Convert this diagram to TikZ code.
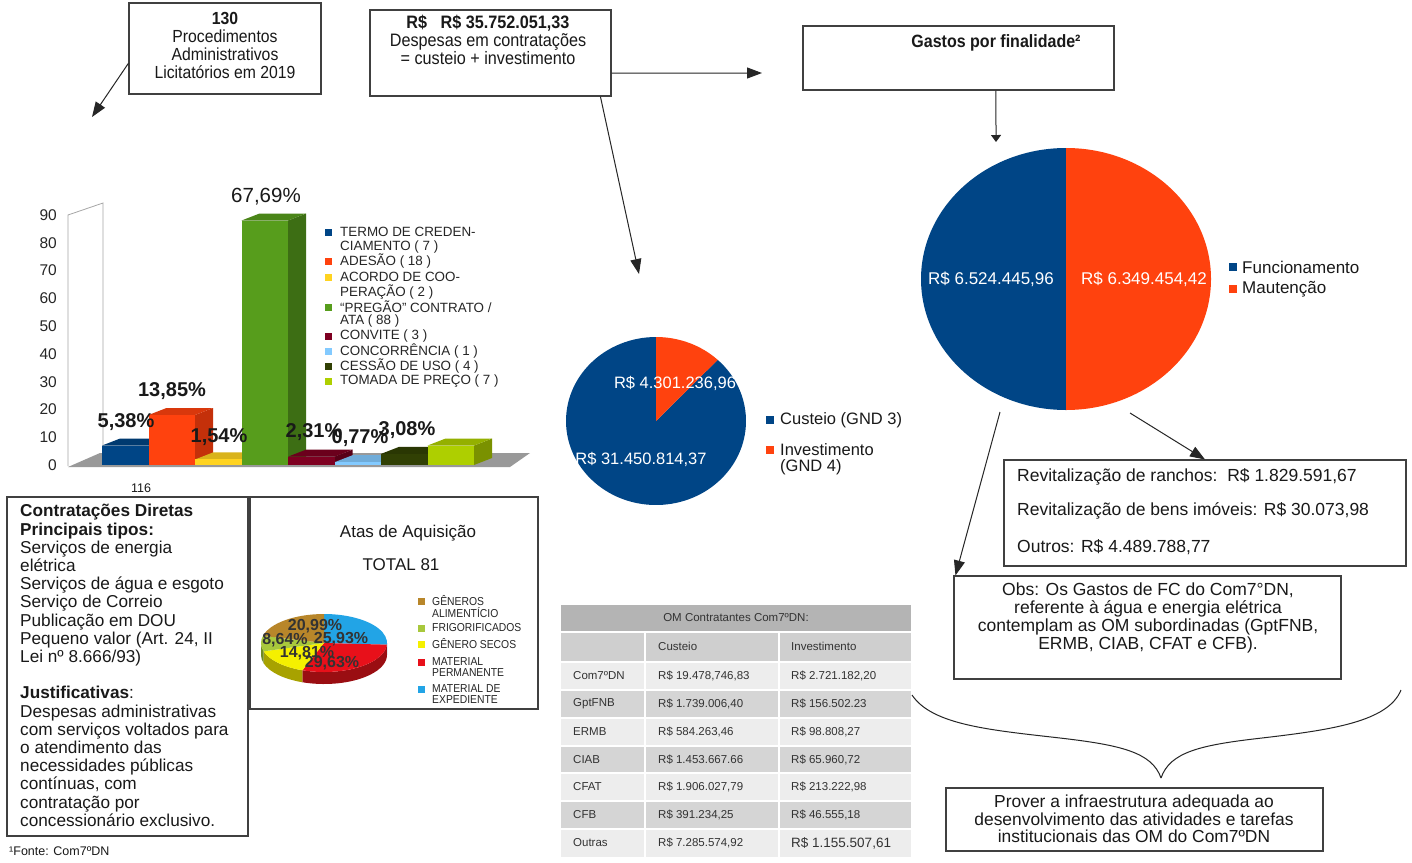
\documentclass[tikz,border=0pt]{standalone}
\usepackage{fontspec}
\setmainfont{Liberation Sans}
\newfontfamily\nar[FakeStretch=0.9]{Liberation Sans}
\usetikzlibrary{arrows.meta,calc}
\newcommand\fsz[2]{\fontsize{#1}{#2}\selectfont}
\definecolor{pblue}{HTML}{004586}
\definecolor{porange}{HTML}{FF420E}
\definecolor{cAf}{HTML}{004586}\definecolor{cAs}{HTML}{00305E}\definecolor{cAt}{HTML}{003A70}
\definecolor{cBf}{HTML}{FF420E}\definecolor{cBs}{HTML}{C4300A}\definecolor{cBt}{HTML}{D9380C}
\definecolor{cCf}{HTML}{FFD320}\definecolor{cCs}{HTML}{C9A618}\definecolor{cCt}{HTML}{D9B31B}
\definecolor{cDf}{HTML}{579D1C}\definecolor{cDs}{HTML}{3D6E14}\definecolor{cDt}{HTML}{4A8518}
\definecolor{cEf}{HTML}{7E0021}\definecolor{cEs}{HTML}{580017}\definecolor{cEt}{HTML}{6B001C}
\definecolor{cFf}{HTML}{83CAFF}\definecolor{cFs}{HTML}{5C8DB3}\definecolor{cFt}{HTML}{70ACD9}
\definecolor{cGf}{HTML}{314004}\definecolor{cGs}{HTML}{222D03}\definecolor{cGt}{HTML}{2A3703}
\definecolor{cHf}{HTML}{AECF00}\definecolor{cHs}{HTML}{7A9100}\definecolor{cHt}{HTML}{94B000}
\definecolor{aBr}{HTML}{B8862A}\definecolor{aBrS}{HTML}{7D5B1F}
\definecolor{aGr}{HTML}{A8C83C}\definecolor{aGrS}{HTML}{6F8A22}
\definecolor{aYe}{HTML}{F5F000}\definecolor{aYeS}{HTML}{A8A200}
\definecolor{aRe}{HTML}{E8101A}\definecolor{aReS}{HTML}{9A0E12}
\definecolor{aBl}{HTML}{22A4E6}\definecolor{aBlS}{HTML}{1D6E99}
\definecolor{thead}{HTML}{B4B4B4}
\definecolor{tsub}{HTML}{CFCFCF}
\definecolor{tl}{HTML}{EDEDED}
\definecolor{td}{HTML}{D5D5D5}
\begin{document}
\begin{tikzpicture}[x=1pt,y=-1pt]
\tikzset{
 box/.style={draw=black!75,line width=1.1pt,fill=white,inner sep=0pt},
 arr/.style={draw=black!85,line width=1pt,-{Triangle[length=15pt,width=11pt]}},
 txt/.style={inner sep=0pt,align=center,text=black!90},
 ltxt/.style={inner sep=0pt,anchor=west,align=left,text=black!90},
 pct/.style={inner sep=0pt,font=\bfseries\fsz{20}{20},text=black!90},
 leg/.style={inner sep=0pt,anchor=west,font=\fsz{13.4}{15},text=black!85},
 aleg/.style={inner sep=0pt,anchor=west,font=\nar\fsz{11.5}{12},text=black!85},
 tcell/.style={inner sep=0pt,anchor=west,font=\fsz{11.5}{13},text=black!80},
 wlbl/.style={inner sep=0pt,text=white,font=\fsz{16.5}{18}},
 brace/.style={draw=black!85,line width=1pt},
}
\useasboundingbox (0,0) rectangle (1412,862);
\fill[white] (0,0) rectangle (1412,862);

% ---------- top boxes ----------
\node[box,minimum width=192pt,minimum height=91pt] (b1) at (225,48.5) {};
\node[txt,font=\nar\fsz{17.5}{18}] (t1) at (225,45) {\textbf{130}\\Procedimentos\\Administrativos\\Licitatórios em 2019};
\node[box,minimum width=241pt,minimum height=86pt] (b2) at (490.5,53) {};
\node[txt,font=\nar\fsz{18}{18}] (t2) at (488,40) {\textbf{R\$\ \ \ R\$ 35.752.051,33}\\Despesas em contratações\\= custeio + investimento};
\node[box,minimum width=311pt,minimum height=64pt] (b3) at (958.5,58) {};
\node[txt,font=\bfseries\nar\fsz{17.8}{18}] (t3) at (996,43) {Gastos por finalidade²};

\coordinate (e1) at (92,117);
\draw[arr] ($(b1.north west)!0.66!(b1.south west)$) -- (e1);
\coordinate (e2) at (762,73);
\draw[arr] ($(b2.north east)!0.73!(b2.south east)$) -- (e2);
\coordinate (e3) at (639,274);
\draw[arr] ($(b2.south west)!0.954!(b2.south east)$) -- (e3);
\coordinate (e4) at (996,142);
\draw[draw=black!85,line width=1pt,-{Triangle[length=7pt,width=10pt]}] ($(b3.south west)!0.62!(b3.south east)$) -- (e4);

% ---------- bar chart ----------
\draw[black!35,line width=0.8pt] (68,466) -- (68,215) -- (103,203) -- (103,454);
\fill[black!40] (68,467) -- (510,467) -- (530,453) -- (100,453) -- cycle;
\foreach \v in {0,10,...,90}
  \node[inner sep=0pt,anchor=east,font=\fsz{15.5}{16},text=black!85] (yl\v) at (57,{465-\v*2.778}) {\v};
\foreach \i/\h/\fa/\fb/\fc in {0/7/cAf/cAs/cAt,1/18/cBf/cBs/cBt,2/2/cCf/cCs/cCt,3/88/cDf/cDs/cDt,4/3/cEf/cEs/cEt,5/1/cFf/cFs/cFt,6/4/cGf/cGs/cGt,7/7/cHf/cHs/cHt}{
  \pgfmathsetmacro\xa{102+46.5*\i}
  \pgfmathsetmacro\xb{\xa+46.5}
  \pgfmathsetmacro\yt{465-\h*2.778}
  \fill[\fb] (\xb,465) -- ({\xb+18},458) -- ({\xb+18},{\yt-7}) -- (\xb,\yt) -- cycle;
  \fill[\fc] (\xa,\yt) -- ({\xa+18},{\yt-7}) -- ({\xb+18},{\yt-7}) -- (\xb,\yt) -- cycle;
  \fill[\fa] (\xa,465) rectangle (\xb,\yt);
}
\node[inner sep=0pt,font=\fsz{20.5}{21},text=black!90] (q1) at (266,197) {67,69\%};
\node[pct] (q2) at (172,391) {13,85\%};
\node[pct] (q3) at (126,422) {5,38\%};
\node[pct] (q4) at (219,437) {1,54\%};
\node[pct] (q5) at (314,432) {2,31\%};
\node[pct] (q6) at (360,438) {0,77\%};
\node[pct] (q7) at (407,430) {3,08\%};
% legend
\foreach \y/\cc in {232/cAf,261/cBf,277/cCf,307/cDf,336/cEf,351/cFf,366/cGf,381/cHf}
  \fill[\cc] (325,{\y-3.5}) rectangle (332,{\y+3.5});
\node[leg] (l1) at (340,232) {TERMO DE CREDEN-};
\node[leg] (l1b) at (340,247) {CIAMENTO ( 7 )};
\node[leg] (l2) at (340,261) {ADESÃO ( 18 )};
\node[leg] (l3) at (340,277) {ACORDO DE COO-};
\node[leg] (l3b) at (340,292) {PERAÇÃO ( 2 )};
\node[leg] (l4) at (340,307) {“PREGÃO” CONTRATO /};
\node[leg] (l4b) at (340,321) {ATA ( 88 )};
\node[leg] (l5) at (340,336) {CONVITE ( 3 )};
\node[leg] (l6) at (340,351) {CONCORRÊNCIA ( 1 )};
\node[leg] (l7) at (340,366) {CESSÃO DE USO ( 4 )};
\node[leg] (l8) at (340,381) {TOMADA DE PREÇO ( 7 )};
\node[txt,font=\fsz{12.5}{14}] (n116) at (141,488) {116};

% ---------- middle pie ----------
\coordinate (pc2) at (656,421);
\fill[pblue] (pc2) -- +(-46.7:90 and 84) arc[start angle=-46.7,end angle=270,x radius=90,y radius=84] -- cycle;
\fill[porange] (pc2) -- +(-90:90 and 84) arc[start angle=-90,end angle=-46.7,x radius=90,y radius=84] -- cycle;
\node[wlbl] (m1) at (675,383) {R\$ 4.301.236,96};
\node[wlbl] (m2) at (641,459) {R\$ 31.450.814,37};
\fill[pblue] (766,416) rectangle (774,424);
\fill[porange] (766,446) rectangle (774,454);
\node[ltxt,font=\fsz{16.5}{17}] (m3) at (780,420) {Custeio (GND 3)};
\node[ltxt,font=\fsz{16.5}{17}] (m4) at (780,450) {Investimento};
\node[ltxt,font=\fsz{16.5}{17}] (m5) at (780,467) {(GND 4)};

% ---------- big pie ----------
\coordinate (pc3) at (1066,279);
\fill[pblue] (pc3) -- +(90:145 and 131) arc[start angle=90,end angle=270,x radius=145,y radius=131] -- cycle;
\fill[porange] (pc3) -- +(-90:145 and 131) arc[start angle=-90,end angle=90,x radius=145,y radius=131] -- cycle;
\node[wlbl,font=\fsz{17}{18}] (v1) at (991,279) {R\$ 6.524.445,96};
\node[wlbl,font=\fsz{17}{18}] (v2) at (1144,279) {R\$ 6.349.454,42};
\fill[pblue] (1229,263) rectangle (1237,271);
\fill[porange] (1229,285) rectangle (1237,293);
\node[ltxt,font=\fsz{17}{18}] (v3) at (1242,267) {Funcionamento};
\node[ltxt,font=\fsz{17}{18}] (v4) at (1242,289) {Mautenção};

% ---------- right boxes ----------
\node[box,minimum width=402pt,minimum height=106pt] (rev) at (1205,513) {};
\node[ltxt,font=\fsz{17.5}{18}] (r1) at (1017,477) {Revitalização de ranchos:\ \ R\$ 1.829.591,67};
\node[ltxt,font=\fsz{17.5}{18}] (r2) at (1017,511) {Revitalização de bens imóveis: R\$ 30.073,98};
\node[ltxt,font=\fsz{17.5}{18}] (r3) at (1017,547) {Outros: R\$ 4.489.788,77};
\node[box,minimum width=387pt,minimum height=103pt] (obs) at (1147.5,627.5) {};
\node[txt,font=\fsz{17.5}{18}] (ot) at (1148,618) {Obs: Os Gastos de FC do Com7°DN,\\referente à água e energia elétrica\\contemplam as OM subordinadas (GptFNB,\\ERMB, CIAB, CFAT e CFB).};
\coordinate (s1) at (1000,412);
\coordinate (s2) at (1130,413);
\draw[arr] (s1) -- ($(obs.north west)+(2,0)$);
\draw[arr] (s2) -- (rev.north);

\coordinate (bl) at (912,695);
\coordinate (br) at (1401,690);
\coordinate (bt) at (1161,778);
\draw[brace] (bl) .. controls (932,725) and (990,730) .. (1060,738) .. controls (1120,745) and (1152,752) .. (bt);
\draw[brace] (br) .. controls (1388,722) and (1330,730) .. (1262,738) .. controls (1200,745) and (1170,752) .. (bt);
\node[box,minimum width=377pt,minimum height=63pt] (prov) at (1134.5,819.5) {};
\node[txt,font=\fsz{17.4}{17.5}] (pt) at (1134,819) {Prover a infraestrutura adequada ao\\desenvolvimento das atividades e tarefas\\institucionais das OM do Com7ºDN};

% ---------- contratacoes diretas ----------
\node[box,minimum width=241pt,minimum height=339pt] (cd) at (127.5,666.5) {};
\node[ltxt,font=\fsz{17.2}{18.2}] (cdt) at (20,665.5) {\textbf{Contratações Diretas}\\\textbf{Principais tipos:}\\Serviços de energia\\elétrica\\Serviços de água e esgoto\\Serviço de Correio\\Publicação em DOU\\Pequeno valor (Art. 24, II\\Lei nº 8.666/93)\\[18.2pt]\textbf{Justificativas}:\\Despesas administrativas\\com serviços voltados para\\o atendimento das\\necessidades públicas\\contínuas, com\\contratação por\\concessionário exclusivo.};
\node[ltxt,font=\fsz{12.5}{14}] (fn) at (9,851) {¹Fonte: Com7ºDN};

% ---------- atas de aquisicao ----------
\node[box,line width=1.3pt,minimum width=288pt,minimum height=212pt] (atas) at (394,603) {};
\node[txt,font=\fsz{17}{18}] (at1) at (408,533) {Atas de Aquisição};
\node[txt,font=\fsz{17}{18}] (at2) at (401,565) {TOTAL 81};
\coordinate (pc1) at (324,643);
% sides
\fill[aBlS] (pc1) ++(0:63 and 29) arc[start angle=0,end angle=3.3,x radius=63,y radius=29] -- ++(0,12) arc[start angle=3.3,end angle=0,x radius=63,y radius=29] -- cycle;
\fill[aReS] (pc1) ++(3.3:63 and 29) arc[start angle=3.3,end angle=110,x radius=63,y radius=29] -- ++(0,12) arc[start angle=110,end angle=3.3,x radius=63,y radius=29] -- cycle;
\fill[aYeS] (pc1) ++(110:63 and 29) arc[start angle=110,end angle=163.3,x radius=63,y radius=29] -- ++(0,12) arc[start angle=163.3,end angle=110,x radius=63,y radius=29] -- cycle;
\fill[aGrS] (pc1) ++(163.3:63 and 29) arc[start angle=163.3,end angle=180,x radius=63,y radius=29] -- ++(0,12) arc[start angle=180,end angle=163.3,x radius=63,y radius=29] -- cycle;
% tops
\fill[aBl] (pc1) -- +(-90:63 and 29) arc[start angle=-90,end angle=3.3,x radius=63,y radius=29] -- cycle;
\fill[aRe] (pc1) -- +(3.3:63 and 29) arc[start angle=3.3,end angle=110,x radius=63,y radius=29] -- cycle;
\fill[aYe] (pc1) -- +(110:63 and 29) arc[start angle=110,end angle=163.3,x radius=63,y radius=29] -- cycle;
\fill[aGr] (pc1) -- +(163.3:63 and 29) arc[start angle=163.3,end angle=194.4,x radius=63,y radius=29] -- cycle;
\fill[aBr] (pc1) -- +(194.4:63 and 29) arc[start angle=194.4,end angle=270,x radius=63,y radius=29] -- cycle;
\node[inner sep=0pt,font=\bfseries\fsz{16}{16},text=black!80] (ap1) at (315,626) {20,99\%};
\node[inner sep=0pt,font=\bfseries\fsz{16}{16},text=black!80] (ap2) at (285,640) {8,64\%};
\node[inner sep=0pt,font=\bfseries\fsz{16}{16},text=black!80] (ap3) at (341,639) {25,93\%};
\node[inner sep=0pt,font=\bfseries\fsz{16}{16},text=black!80] (ap4) at (307,653) {14,81\%};
\node[inner sep=0pt,font=\bfseries\fsz{16}{16},text=black!80] (ap5) at (332,663) {29,63\%};
\foreach \y/\cc in {601/aBr,628/aGr,644/aYe,662/aRe,689/aBl}
  \fill[\cc] (418,{\y-3.5}) rectangle (425,{\y+3.5});
\node[aleg] (al1) at (432,601) {GÊNEROS};
\node[aleg] (al1b) at (432,613) {ALIMENTÍCIO};
\node[aleg] (al2) at (432,628) {FRIGORIFICADOS};
\node[aleg] (al3) at (432,644) {GÊNERO SECOS};
\node[aleg] (al4) at (432,662) {MATERIAL};
\node[aleg] (al4b) at (432,673) {PERMANENTE};
\node[aleg] (al5) at (432,689) {MATERIAL DE};
\node[aleg] (al5b) at (432,700) {EXPEDIENTE};

% ---------- table ----------
\fill[thead] (561,605) rectangle (911,632);
\fill[tsub] (561,632) rectangle (911,662);
\foreach \y/\cc in {662/tl,690/td,718/tl,746/td,773/tl,801/td,829/tl}
  \fill[\cc] (561,\y) rectangle (911,{\y+28});
\foreach \y in {632,662,690,718,746,773,801,829}
  \draw[white,line width=2pt] (561,\y) -- (911,\y);
\foreach \x in {645,779}
  \draw[white,line width=2.5pt] (\x,632) -- (\x,857);
\node[txt,font=\fsz{11.5}{13},text=black!80] (th) at (736,618) {OM Contratantes Com7ºDN:};
\node[tcell] (h2) at (658,646) {Custeio};
\node[tcell] (h3) at (791,646) {Investimento};
\node[tcell] (a1) at (573,676) {Com7ºDN};
\node[tcell] (b1c) at (658,676) {R\$ 19.478,746,83};
\node[tcell] (c1) at (791,676) {R\$ 2.721.182,20};
\node[tcell] (a2) at (573,704) {GptFNB};
\node[tcell] (b2c) at (658,704) {R\$ 1.739.006,40};
\node[tcell] (c2) at (791,704) {R\$ 156.502.23};
\node[tcell] (a3) at (573,732) {ERMB};
\node[tcell] (b3c) at (658,732) {R\$ 584.263,46};
\node[tcell] (c3) at (791,732) {R\$ 98.808,27};
\node[tcell] (a4) at (573,760) {CIAB};
\node[tcell] (b4c) at (658,760) {R\$ 1.453.667.66};
\node[tcell] (c4) at (791,760) {R\$ 65.960,72};
\node[tcell] (a5) at (573,787) {CFAT};
\node[tcell] (b5c) at (658,787) {R\$ 1.906.027,79};
\node[tcell] (c5) at (791,787) {R\$ 213.222,98};
\node[tcell] (a6) at (573,815) {CFB};
\node[tcell] (b6c) at (658,815) {R\$ 391.234,25};
\node[tcell] (c6) at (791,815) {R\$ 46.555,18};
\node[tcell] (a7) at (573,843) {Outras};
\node[tcell] (b7c) at (658,843) {R\$ 7.285.574,92};
\node[tcell,font=\fsz{13.5}{15}] (c7) at (791,843) {R\$ 1.155.507,61};
\end{tikzpicture}
\end{document}
